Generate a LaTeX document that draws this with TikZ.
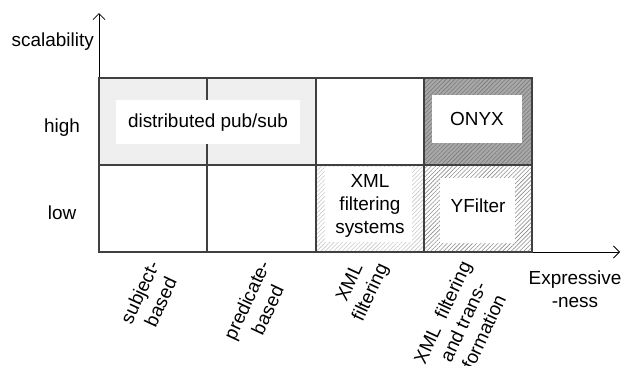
\documentclass[tikz,border=0pt]{standalone}
\usepackage{fontspec}
\setmainfont{Liberation Sans}
\usetikzlibrary{arrows.meta,patterns.meta}
\definecolor{gridc}{HTML}{404040}
\definecolor{pubsub}{HTML}{EFEFEF}
\definecolor{onyxbg}{HTML}{A8A8A8}
\definecolor{onyxln}{HTML}{7A7A7A}
\definecolor{yfln}{HTML}{8C8C8C}
\definecolor{xmlln}{HTML}{C8C8C8}
\tikzset{
  txt/.style={inner sep=0pt, font=\fontsize{19}{23}\selectfont, align=center},
  wbox/.style={fill=white, draw=none, inner sep=0pt},
  gridline/.style={draw=gridc, line width=1.3bp},
  axis/.style={draw=black, line width=0.8bp, -{Straight Barb[length=6bp,width=12bp,line width=0.8bp]}},
  hatch/.style={pattern={Lines[angle=45,distance=3pt,line width=0.6pt]}, pattern color=#1},
  rot/.style={txt, rotate=65}
}
\begin{document}
\begin{tikzpicture}[x=1bp,y=-1bp]
\useasboundingbox (0,0) rectangle (624,365);
% cell fills
\fill[pubsub] (99,78) rectangle (316,165);
\fill[onyxbg] (424,78) rectangle (532,165);
\fill[hatch=onyxln] (424,78) rectangle (532,165);
\fill[hatch=yfln] (424,165) rectangle (532,252);
\fill[hatch=xmlln] (316,165) rectangle (424,252);
% grid
\coordinate (O) at (99,252);
\coordinate (ytip) at (99,13);
\coordinate (xtip) at (620,252);
\draw[axis] (O) -- (ytip);
\draw[axis] (O) -- (xtip);
\draw[gridline] (99,78) rectangle (532,252);
\draw[gridline] (99,165) -- (532,165);
\draw[gridline] (207,78) -- (207,252);
\draw[gridline] (316,78) -- (316,252);
\draw[gridline] (424,78) -- (424,252);
% white boxes
\node[wbox, minimum width=184bp, minimum height=44bp] (pubsubbox) at (208,122) {};
\node[txt] (pubsub) at (208,123) {distributed pub/sub};
\node[wbox, minimum width=90bp, minimum height=48bp] (onyxbox) at (477,119) {};
\node[txt] (onyx) at (477,119) {ONYX};
\node[wbox, minimum width=75bp, minimum height=65bp] (yfbox) at (477.5,210.5) {};
\node[txt] (yfilter) at (478,205.5) {YFilter};
\node[wbox, minimum width=87bp, minimum height=75bp] (xmlbox) at (368.5,204.5) {};
\node[txt] (xmlsys) at (370,206) {XML\\filtering\\systems};
% axis labels
\node[txt, anchor=east] (scal) at (94,42) {scalability};
\node[txt] (high) at (62,128) {high};
\node[txt] (low) at (62,213) {low};
\node[txt] (expr) at (575,289) {Expressive\\-ness};
% rotated labels
\node[rot] (l1) at (150,297) {subject-\\based};
\node[rot] (l2) at (257,305) {predicate-\\based};
\node[rot] (l3) at (361,288) {XML\\filtering};
\node[rot] (l4) at (463,322) {XML\ \ filtering\\and trans-\\formation};
\end{tikzpicture}
\end{document}
